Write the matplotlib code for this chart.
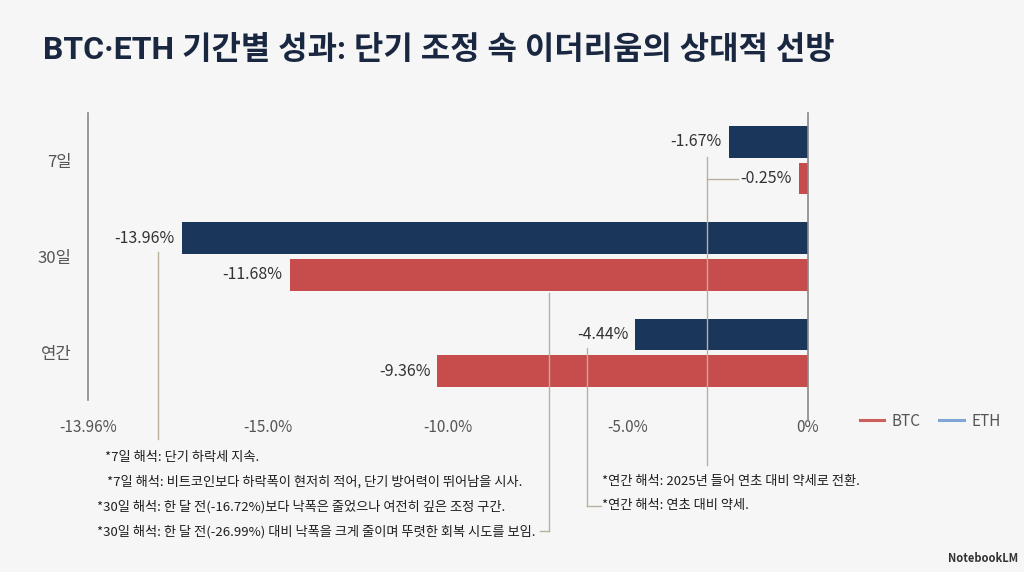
import matplotlib
matplotlib.use("Agg")
import matplotlib.pyplot as plt
from matplotlib.lines import Line2D

plt.rcParams['font.family'] = ['Noto Sans CJK KR', 'DejaVu Sans']

# ---- data ----
categories = ["7일", "30일", "연간"]
eth_bar = [-2.2, -17.4, -4.8]          # bar lengths as drawn on the axis
btc_bar = [-0.25, -14.4, -10.3]
eth_labels = ["-1.67%", "-13.96%", "-4.44%"]
btc_labels = ["-0.25%", "-11.68%", "-9.36%"]
x_ticks = [-20, -15, -10, -5, 0]
x_tick_labels = ["-13.96%", "-15.0%", "-10.0%", "-5.0%", "0%"]
notes_left = [
    "*7일 해석: 단기 하락세 지속.",
    "*7일 해석: 비트코인보다 하락폭이 현저히 적어, 단기 방어력이 뛰어남을 시사.",
    "*30일 해석: 한 달 전(-16.72%)보다 낙폭은 줄었으나 여전히 깊은 조정 구간.",
    "*30일 해석: 한 달 전(-26.99%) 대비 낙폭을 크게 줄이며 뚜렷한 회복 시도를 보임.",
]
notes_right = [
    "*연간 해석: 2025년 들어 연초 대비 약세로 전환.",
    "*연간 해석: 연초 대비 약세.",
]
title = "BTC·ETH 기간별 성과: 단기 조정 속 이더리움의 상대적 선방"

ETH_C = "#1b365b"
BTC_C = "#c64d4c"
ETH_LEG = "#7fa7d3"
BTC_LEG = "#cc5f5e"
LINE_C = "#b9b09e"
BG = "#f6f6f6"
W, H = 1024, 572

fig = plt.figure(figsize=(W / 100, H / 100), dpi=100, facecolor=BG)
ax = fig.add_axes([88 / W, 1 - 400 / H, 720 / W, 287 / H], facecolor=BG)

ypos = list(range(len(categories)))
bh = 0.33
off = 0.19
ax.barh([y - off for y in ypos], eth_bar, height=bh, color=ETH_C, zorder=2)
ax.barh([y + off for y in ypos], btc_bar, height=bh, color=BTC_C, zorder=2)

for y, v, s in zip(ypos, eth_bar, eth_labels):
    ax.annotate(s, (v, y - off), xytext=(-5, 0), textcoords="offset points",
                ha="right", va="center", fontsize=11.5, color="#333333")
for y, v, s in zip(ypos, btc_bar, btc_labels):
    ax.annotate(s, (v, y + off), xytext=(-5, 0), textcoords="offset points",
                ha="right", va="center", fontsize=11.5, color="#333333")

ax.set_xlim(-20, 0)
ax.set_ylim(2.49, -0.49)
ax.set_yticks(ypos)
ax.set_yticklabels(categories, fontsize=12, color="#555555")
ax.set_xticks(x_ticks)
ax.set_xticklabels(x_tick_labels, fontsize=11, color="#555555")
ax.tick_params(axis="both", length=0)
ax.tick_params(axis="y", pad=12)
ax.tick_params(axis="x", pad=14)
for s in ["top", "right", "bottom"]:
    ax.spines[s].set_visible(False)
ax.spines["left"].set_color("#888888")
ax.spines["left"].set_linewidth(1.2)

# zero line
ax.plot([0, 0], [-0.49, 2.7], color="#888888", lw=1.2, clip_on=False, zorder=3)

# leader lines (decorative)
lk = dict(color=LINE_C, lw=1.0, clip_on=False, zorder=3)
ax.plot([-2.8, -2.8], [-0.03, 3.16], **lk)
ax.plot([-2.8, -1.95], [0.2, 0.2], **lk)
ax.plot([-7.2, -7.2], [1.38, 3.85], **lk)
ax.plot([-7.2, -7.45], [3.85, 3.85], **lk)
ax.plot([-6.14, -6.14], [1.95, 3.59], **lk)
ax.plot([-6.14, -5.75], [3.59, 3.59], **lk)
ax.plot([-18.06, -18.06], [0.95, 2.89], **lk)

# title
fig.text(43 / W, 1 - 50 / H, title, fontsize=23, fontweight="bold",
         family=['Roboto', 'Noto Sans CJK KR', 'DejaVu Sans'],
         color="#1a2740", ha="left", va="center")

# legend
handles = [Line2D([], [], color=BTC_LEG, lw=2.2), Line2D([], [], color=ETH_LEG, lw=2.2)]
fig.legend(handles, ["BTC", "ETH"], loc="center left",
           bbox_to_anchor=(846 / W, 1 - 421 / H), ncol=2, frameon=False,
           fontsize=11, labelcolor="#555555", handlelength=1.6,
           handletextpad=0.5, columnspacing=1.2)

# notes
left_x = [105, 107, 97, 97]
left_y = [458, 482, 507, 532]
for s, x, y in zip(notes_left, left_x, left_y):
    fig.text(x / W, 1 - y / H, s, fontsize=9.5, color="#1e1e1e",
             ha="left", va="center")
for s, y in zip(notes_right, [482, 506]):
    fig.text(602 / W, 1 - y / H, s, fontsize=9.5, color="#1e1e1e",
             ha="left", va="center")

fig.text(1018 / W, 1 - 559 / H, "NotebookLM", fontsize=8, fontweight="bold",
         color="#333333", ha="right", va="center")

fig.savefig("out.png", dpi=100, facecolor=BG)
